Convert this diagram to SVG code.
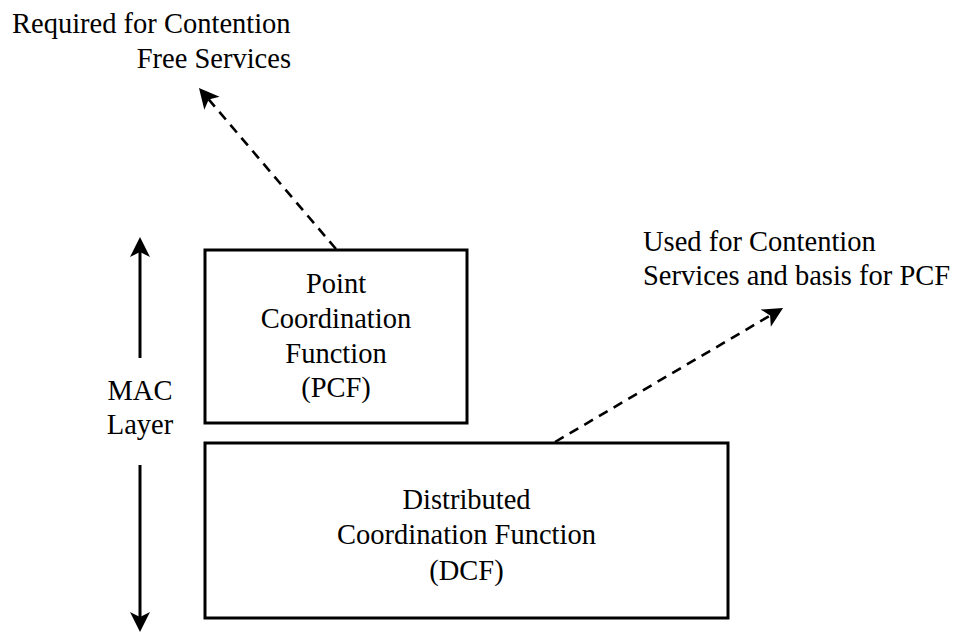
<svg xmlns="http://www.w3.org/2000/svg" width="956" height="633" viewBox="0 0 956 633">
<style>
  text { font-family: "Liberation Serif", "Times New Roman", serif; font-size: 28.5px; fill: #000; }
  .box { fill: #fff; stroke: #000; stroke-width: 3; }
  .solid { fill: none; stroke: #000; stroke-width: 3; }
  .dash { fill: none; stroke: #000; stroke-width: 2.6; stroke-dasharray: 10 7; }
</style>
<defs>
  <marker id="head" viewBox="-1 -11 23 22" markerUnits="userSpaceOnUse" markerWidth="23" markerHeight="22" refX="5" refY="0" orient="auto">
    <path d="M0,-10 L20,0 L0,10 L5,0 Z" fill="#000" stroke="none"/>
  </marker>
</defs>
<rect width="956" height="633" fill="#fff"/>
<g id="connectors">
  <path class="solid" d="M140,358 L140,252" marker-end="url(#head)"/>
  <path class="solid" d="M140,465 L140,617" marker-end="url(#head)"/>
  <path class="dash" d="M336,249 L208.7,99.4" marker-end="url(#head)"/>
  <path class="dash" d="M555,442 L770.1,315.6" marker-end="url(#head)"/>
</g>
<g id="pcf">
  <rect class="box" x="205" y="250" width="262" height="173"/>
  <text x="336" y="293" text-anchor="middle">Point</text>
  <text x="336" y="328" text-anchor="middle">Coordination</text>
  <text x="336" y="363" text-anchor="middle">Function</text>
  <text x="336" y="397" text-anchor="middle">(PCF)</text>
</g>
<g id="dcf">
  <rect class="box" x="205" y="443" width="523" height="175"/>
  <text x="466.5" y="509" text-anchor="middle">Distributed</text>
  <text x="466.5" y="544" text-anchor="middle">Coordination Function</text>
  <text x="466.5" y="580" text-anchor="middle">(DCF)</text>
</g>
<g id="mac-layer">
  <text x="140" y="400" text-anchor="middle">MAC</text>
  <text x="140" y="434" text-anchor="middle">Layer</text>
</g>
<g id="label-cfs">
  <text x="12" y="33">Required for Contention</text>
  <text x="291" y="68" text-anchor="end">Free Services</text>
</g>
<g id="label-cs">
  <text x="643" y="251">Used for Contention</text>
  <text x="643" y="285">Services and basis for PCF</text>
</g>
</svg>
